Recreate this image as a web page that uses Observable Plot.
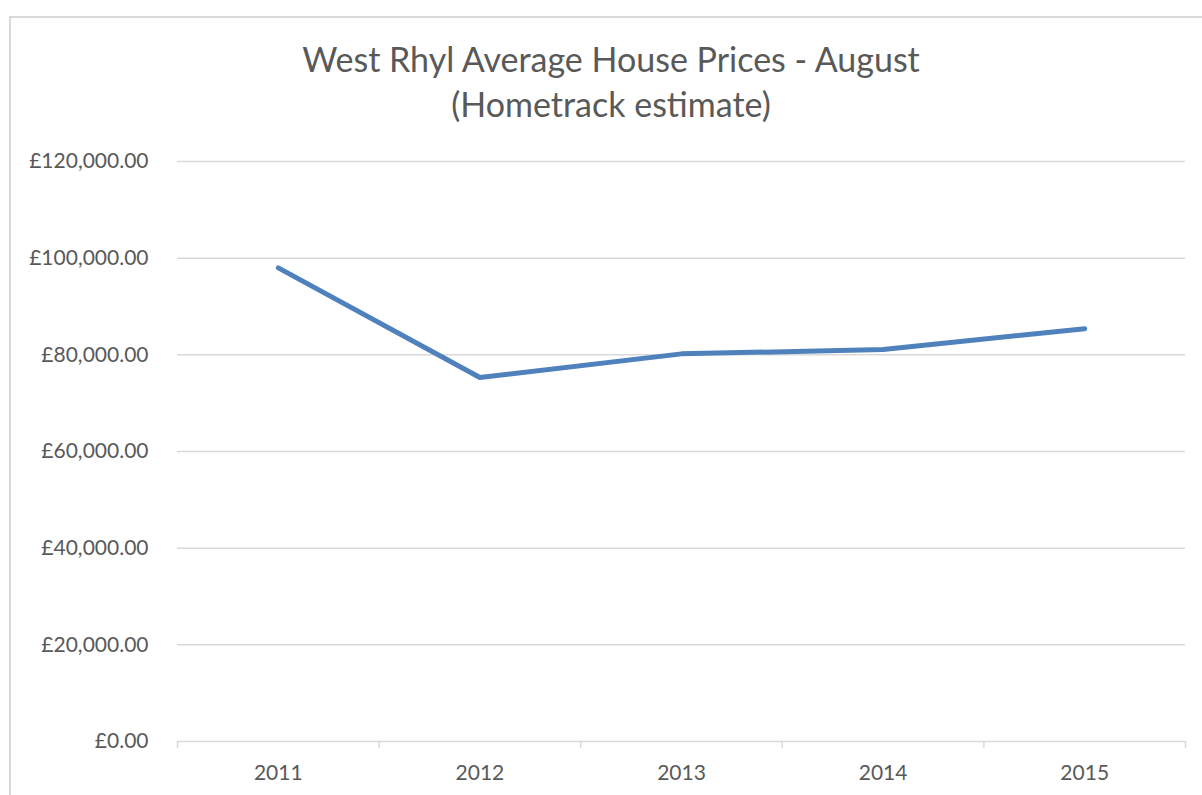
<!DOCTYPE html>
<html>
<head>
<meta charset="utf-8">
<script src="https://cdn.jsdelivr.net/npm/d3@7"></script>
<script src="https://cdn.jsdelivr.net/npm/@observablehq/plot@0.6"></script>
<style>
  html, body { margin: 0; padding: 0; background: #fff; overflow: hidden; width: 1202px; height: 795px; }
  #frame { position: absolute; left: 9px; top: 16px; width: 1400px; height: 1000px; border-left: 2px solid #d9d9d9; border-top: 2px solid #d9d9d9; box-sizing: border-box; }
  #title { position: absolute; left: 0; top: 36px; width: 1222px; text-align: center; font-family: Lato, "Open Sans", sans-serif; font-size: 34px; line-height: 45px; color: #595959; }
  #chart { position: absolute; left: 0; top: 130px; }
</style>
</head>
<body>
<div id="frame"></div>
<div id="title">West Rhyl Average House Prices - August<br>(Hometrack estimate)</div>
<div id="chart"></div>
<script>
const years = [2011, 2012, 2013, 2014, 2015];
const prices = [98000, 75300, 80200, 81100, 85400];
const yTicks = [0, 20000, 40000, 60000, 80000, 100000, 120000];
const boundaries = [2010.5, 2011.5, 2012.5, 2013.5, 2014.5, 2015.5];

const data = years.map((year, i) => ({year, price: prices[i]}));
const grid = "#d9d9d9";
const textColor = "#595959";

const chart = Plot.plot({
  width: 1202,
  height: 665,
  marginTop: 31,
  marginBottom: 54,
  marginLeft: 177,
  marginRight: 17,
  style: {fontFamily: "Lato, 'Open Sans', sans-serif", fontSize: "21px", color: textColor, background: "transparent"},
  x: {type: "linear", domain: [2010.5, 2015.5]},
  y: {domain: [0, 120000]},
  marks: [
    Plot.gridY(yTicks, {stroke: grid, strokeOpacity: 1, strokeWidth: 1.5}),
    Plot.axisX({ticks: boundaries, tickFormat: () => "", tickSize: 7, stroke: grid, strokeOpacity: 1, strokeWidth: 1.5, label: null}),
    Plot.axisX({ticks: years, tickFormat: d => String(d), tickSize: 0, tickPadding: 24, fill: textColor, label: null}),
    Plot.axisY({ticks: yTicks, tickFormat: d => "£" + d3.format(",.2f")(d), tickSize: 0, tickPadding: 29, fill: textColor, label: null}),
    Plot.line(data, {x: "year", y: "price", stroke: "#4f81bd", strokeWidth: 5, strokeLinecap: "round", strokeLinejoin: "round"})
  ]
});
document.getElementById("chart").appendChild(chart);
</script>
</body>
</html>
